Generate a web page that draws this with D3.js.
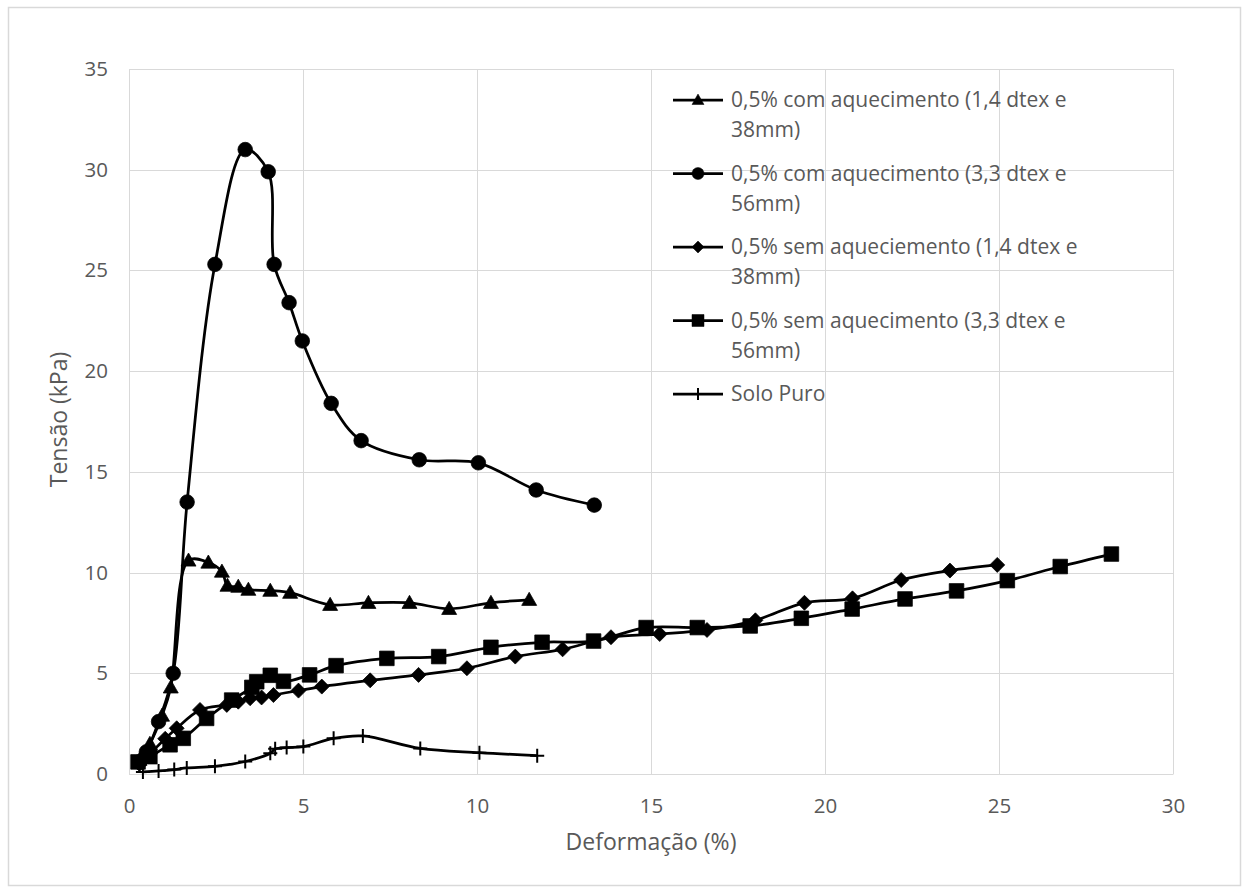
<!DOCTYPE html>
<html>
<head>
<meta charset="utf-8">
<script src="https://cdn.jsdelivr.net/npm/d3@7"></script>
<style>
	body { margin: 0; background: #fff; }
	text { font-family: 'Open Sans', 'Noto Sans', sans-serif; fill: #595959; }
</style>
</head>
<body>
<div id="chart"></div>
<script>
// series values (x = Deformação %, y = Tensão kPa)
const tri14X = [0.3, 0.6, 0.95, 1.2, 1.71, 2.28, 2.67, 2.83, 3.14, 3.43, 4.06, 4.63, 5.78, 6.88, 8.06, 9.2, 10.4, 11.5];
const tri14Y = [0.7, 1.5, 2.9, 4.3, 10.6, 10.5, 10.05, 9.35, 9.3, 9.15, 9.1, 9.0, 8.4, 8.5, 8.5, 8.2, 8.5, 8.65];

const circ33X = [0.3, 0.5, 0.85, 1.27, 1.67, 2.47, 3.34, 4.0, 4.17, 4.6, 4.98, 5.81, 6.67, 8.34, 10.04, 11.7, 13.37];
const circ33Y = [0.6, 1.1, 2.6, 5.0, 13.5, 25.3, 31.0, 29.9, 25.3, 23.4, 21.5, 18.4, 16.55, 15.6, 15.45, 14.1, 13.35];

const diam14X = [0.3, 0.6, 1.04, 1.37, 2.04, 2.81, 3.14, 3.48, 3.81, 4.15, 4.87, 5.54, 6.93, 8.32, 9.71, 11.1, 12.46, 13.85, 15.25, 16.61, 18.0, 19.41, 20.79, 22.19, 23.59, 24.95];
const diam14Y = [0.5, 1.0, 1.75, 2.27, 3.18, 3.43, 3.59, 3.76, 3.8, 3.92, 4.14, 4.34, 4.65, 4.92, 5.25, 5.83, 6.19, 6.79, 6.95, 7.15, 7.63, 8.5, 8.72, 9.63, 10.1, 10.38];

const sq33X = [0.26, 0.6, 1.18, 1.56, 2.23, 2.95, 3.53, 3.67, 4.06, 4.44, 5.19, 5.95, 7.41, 8.9, 10.4, 11.87, 13.35, 14.86, 16.33, 17.85, 19.32, 20.78, 22.3, 23.78, 25.24, 26.76, 28.23];
const sq33Y = [0.6, 0.86, 1.45, 1.77, 2.76, 3.67, 4.3, 4.58, 4.9, 4.6, 4.92, 5.38, 5.74, 5.83, 6.29, 6.54, 6.6, 7.27, 7.27, 7.35, 7.73, 8.19, 8.69, 9.09, 9.6, 10.3, 10.92];

const soloX = [0.4, 0.85, 1.3, 1.66, 2.47, 3.34, 4.06, 4.2, 4.53, 5.01, 5.88, 6.72, 8.37, 10.07, 11.73];
const soloY = [0.1, 0.15, 0.22, 0.3, 0.38, 0.62, 1.03, 1.25, 1.31, 1.36, 1.77, 1.89, 1.27, 1.06, 0.91];

const seriesNames = [
	['0,5% com aquecimento (1,4 dtex e', '38mm)'],
	['0,5% com aquecimento (3,3 dtex e', '56mm)'],
	['0,5% sem aqueciemento (1,4 dtex e', '38mm)'],
	['0,5% sem aquecimento (3,3 dtex e', '56mm)'],
	['Solo Puro'],
];
const xTicks = [0, 5, 10, 15, 20, 25, 30];
const yTicks = [0, 5, 10, 15, 20, 25, 30, 35];

const series = [
	{ name: seriesNames[0], marker: 'triangle', xs: tri14X, ys: tri14Y },
	{ name: seriesNames[1], marker: 'circle', xs: circ33X, ys: circ33Y },
	{ name: seriesNames[2], marker: 'diamond', xs: diam14X, ys: diam14Y },
	{ name: seriesNames[3], marker: 'square', xs: sq33X, ys: sq33Y },
	{ name: seriesNames[4], marker: 'plus', xs: soloX, ys: soloY },
].map(s => ({ ...s, pts: s.xs.map((x, i) => ({ x, y: s.ys[i] })) }));

const W = 1248, H = 888;
const margin = { top: 69, right: 75, bottom: 114, left: 129 };
const width = W - margin.left - margin.right;
const height = H - margin.top - margin.bottom;
const gridColor = '#d9d9d9';
const tickFont = '20.5px';
const titleFont = '23px';

const svg = d3.select('#chart').append('svg')
	.attr('width', W)
	.attr('height', H);

// chart border
svg.append('rect')
	.attr('x', 8.5).attr('y', 7.5)
	.attr('width', 1232).attr('height', 878)
	.style('fill', 'none')
	.style('stroke', gridColor)
	.style('stroke-width', 1.5);

const chart = svg.append('g')
	.attr('transform', `translate(${margin.left}, ${margin.top})`);

const x = d3.scaleLinear().domain([0, 30]).range([0, width]);
const y = d3.scaleLinear().domain([0, 35]).range([height, 0]);

// gridlines
chart.append('g').selectAll('line')
	.data(yTicks)
	.enter().append('line')
		.attr('x1', 0).attr('x2', width)
		.attr('y1', d => Math.round(y(d)) + 0.5)
		.attr('y2', d => Math.round(y(d)) + 0.5)
		.style('stroke', gridColor);
chart.append('g').selectAll('line')
	.data(xTicks)
	.enter().append('line')
		.attr('y1', 0).attr('y2', height)
		.attr('x1', d => Math.round(x(d)) + 0.5)
		.attr('x2', d => Math.round(x(d)) + 0.5)
		.style('stroke', gridColor);

const xAxis = d3.axisBottom(x).tickValues(xTicks).tickSize(0).tickPadding(24);
const yAxis = d3.axisLeft(y).tickValues(yTicks).tickSize(0).tickPadding(21);

const xAxisG = chart.append('g')
	.attr('transform', `translate(0, ${height})`)
	.call(xAxis);
const yAxisG = chart.append('g').call(yAxis);
[xAxisG, yAxisG].forEach(g => {
	g.select('.domain').style('stroke', gridColor);
	g.selectAll('text')
		.style('font-size', tickFont)
		.style('font-family', "'Open Sans', sans-serif")
		.attr('fill', '#595959');
});

// axis titles
chart.append('text')
	.attr('x', width / 2)
	.attr('y', height + 76)
	.style('font-size', titleFont)
	.style('text-anchor', 'middle')
	.text('Deformação (%)');
chart.append('text')
	.attr('transform', 'rotate(-90)')
	.attr('x', -height / 2 + 2)
	.attr('y', -62)
	.style('font-size', titleFont)
	.style('text-anchor', 'middle')
	.text('Tensão (kPa)');

function markerPath(type, s) {
	if (type === 'circle') {
		return d3.symbol(d3.symbolCircle, Math.PI * s * s)();
	} else if (type === 'triangle') {
		return `M0,${-s}L${s},${s * 0.75}L${-s},${s * 0.75}Z`;
	} else if (type === 'square') {
		return `M${-s},${-s}H${s}V${s}H${-s}Z`;
	} else if (type === 'diamond') {
		return `M0,${-s}L${s},0L0,${s}L${-s},0Z`;
	}
	return `M${-s},0H${s}M0,${-s}V${s}`;
}

const lineFunc = d3.line()
	.x(d => x(d.x))
	.y(d => y(d.y))
	.curve(d3.curveCatmullRom.alpha(0.5));

const plot = chart.append('g');
series.slice().reverse().forEach(s => {
	const g = plot.append('g');
	g.append('path')
		.attr('d', lineFunc(s.pts))
		.style('fill', 'none')
		.style('stroke', '#000')
		.style('stroke-width', 2.75);
	const size = { circle: 7.3, triangle: 7.5, square: 7.3, diamond: 7.5, plus: 7 }[s.marker];
	g.selectAll('.mark')
		.data(s.pts)
		.enter().append('path')
			.attr('class', 'mark')
			.attr('transform', d => `translate(${x(d.x)}, ${y(d.y)})`)
			.attr('d', markerPath(s.marker, size))
			.style('fill', s.marker === 'plus' ? 'none' : '#000')
			.style('stroke', '#000')
			.style('stroke-width', s.marker === 'plus' ? 2 : 0.75);
});

// legend
const legendG = svg.append('g')
	.attr('transform', 'translate(673, 100)');
const legend = legendG.selectAll('g')
	.data(series)
	.enter().append('g')
		.attr('transform', (d, i) => `translate(0, ${i * 73.5})`);
legend.append('line')
	.attr('x1', 0).attr('x2', 50)
	.style('stroke', '#000')
	.style('stroke-width', 2.75);
legend.append('path')
	.attr('transform', 'translate(25, 0)')
	.attr('d', d => markerPath(d.marker, 6))
	.style('fill', d => d.marker === 'plus' ? 'none' : '#000')
	.style('stroke', '#000')
	.style('stroke-width', d => d.marker === 'plus' ? 2 : 0.5);
legend.append('text')
	.attr('y', 7)
	.style('font-size', '21px')
	.selectAll('tspan')
	.data(d => d.name)
	.enter().append('tspan')
		.attr('x', 58)
		.attr('dy', (d, i) => i === 0 ? 0 : 30)
		.text(d => d);
</script>
</body>
</html>
